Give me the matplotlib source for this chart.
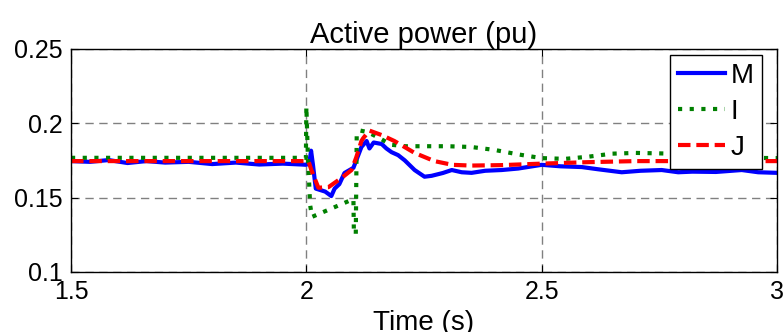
import matplotlib.pyplot as plt

plt.rcParams['font.family'] = ['Liberation Sans', 'DejaVu Sans']

# M (measured)
t_m = [1.5, 1.54, 1.58, 1.62, 1.66, 1.70, 1.75, 1.80, 1.85, 1.90, 1.95, 1.99,
       2.0, 2.007, 2.01, 2.014, 2.02, 2.03, 2.04, 2.053, 2.06, 2.07, 2.081, 2.10,
       2.117, 2.128, 2.134, 2.143, 2.16, 2.17, 2.181, 2.195, 2.209, 2.23, 2.251, 2.266, 2.29,
       2.309, 2.33, 2.351, 2.38, 2.415, 2.45, 2.5, 2.54, 2.585, 2.62, 2.67, 2.71,
       2.755, 2.79, 2.82, 2.87, 2.925, 2.96, 3.0]
p_m = [0.1745, 0.1740, 0.1752, 0.1732, 0.1745, 0.1735, 0.1740, 0.1725, 0.1735, 0.1722, 0.1728, 0.1722,
       0.1720, 0.1745, 0.1815, 0.1720, 0.1560, 0.1550, 0.1540, 0.1510, 0.1560, 0.1590, 0.1665, 0.1700,
       0.1840, 0.1880, 0.1830, 0.1870, 0.1860, 0.1830, 0.1805, 0.1785, 0.1750, 0.1685, 0.1640, 0.1646, 0.1665,
       0.1685, 0.1670, 0.1666, 0.1680, 0.1685, 0.1695, 0.1720, 0.1710, 0.1705, 0.1690, 0.1670, 0.1680,
       0.1685, 0.1670, 0.1674, 0.1672, 0.1685, 0.1670, 0.1666]

# I
t_i = [1.5, 1.999, 2.0, 2.003, 2.008, 2.012, 2.1, 2.101, 2.105, 2.107, 2.115, 2.13,
       2.155, 2.18, 2.21, 2.3, 2.35, 2.4, 2.45, 2.5, 2.55, 2.6, 2.65, 2.7, 2.78, 2.85, 3.0]
p_i = [0.1767, 0.1767, 0.2110, 0.1800, 0.1450, 0.1370, 0.1490, 0.1255, 0.1255, 0.1930, 0.1950, 0.1940,
       0.1900, 0.1855, 0.1845, 0.1845, 0.1840, 0.1820, 0.1790, 0.1765, 0.1760, 0.1775, 0.1795, 0.1800, 0.1795, 0.1770, 0.1765]

# J
t_j = [1.5, 2.0, 2.005, 2.0106, 2.0255, 2.047, 2.074, 2.096, 2.106, 2.117, 2.121, 2.134,
       2.16, 2.187, 2.23, 2.272, 2.31, 2.35, 2.415, 2.5, 2.6, 2.7, 3.0]
p_j = [0.1745, 0.1745, 0.1740, 0.1685, 0.1566, 0.1570, 0.1630, 0.1685, 0.1770, 0.1880, 0.1900, 0.1950,
       0.1920, 0.1880, 0.1800, 0.1745, 0.1720, 0.1715, 0.1718, 0.1728, 0.1738, 0.1745, 0.1745]

fig = plt.figure(figsize=(7.83, 3.32), dpi=100)
ax = fig.add_axes([0.0907, 0.181, 0.9017, 0.672])

ax.plot(t_m, p_m, color='blue', lw=3, label='M')
ax.plot(t_i, p_i, color='green', lw=3, linestyle=(0, (1, 1.8)), label='I')
ax.plot(t_j, p_j, color='red', lw=3, linestyle=(0, (3, 1.4)), label='J')

ax.set_xlim(1.5, 3)
ax.set_ylim(0.1, 0.25)
ax.set_xticks([1.5, 2, 2.5, 3])
ax.set_xticklabels(['1.5', '2', '2.5', '3'])
ax.set_yticks([0.1, 0.15, 0.2, 0.25])
ax.set_yticklabels(['0.1', '0.15', '0.2', '0.25'])
ax.tick_params(direction='in', length=5, labelsize=18, top=True, right=True)
ax.tick_params(axis='x', pad=6)
ax.tick_params(axis='y', pad=6)
ax.grid(True, color='gray', linestyle=(0, (6, 4)), lw=1)
for s in ax.spines.values():
    s.set_linewidth(1)

ax.set_title('Active power (pu)', fontsize=21, pad=4)
ax.set_xlabel('Time (s)', fontsize=20, labelpad=4)

leg = ax.legend(loc='upper right', bbox_to_anchor=(0.979, 0.973), borderaxespad=0,
                fontsize=20, fancybox=False, framealpha=1, edgecolor='black',
                handlelength=1.7, labelspacing=0.36, handletextpad=0.2, borderpad=0.3)
leg.get_frame().set_linewidth(1)

fig.savefig('out.png', dpi=100)
